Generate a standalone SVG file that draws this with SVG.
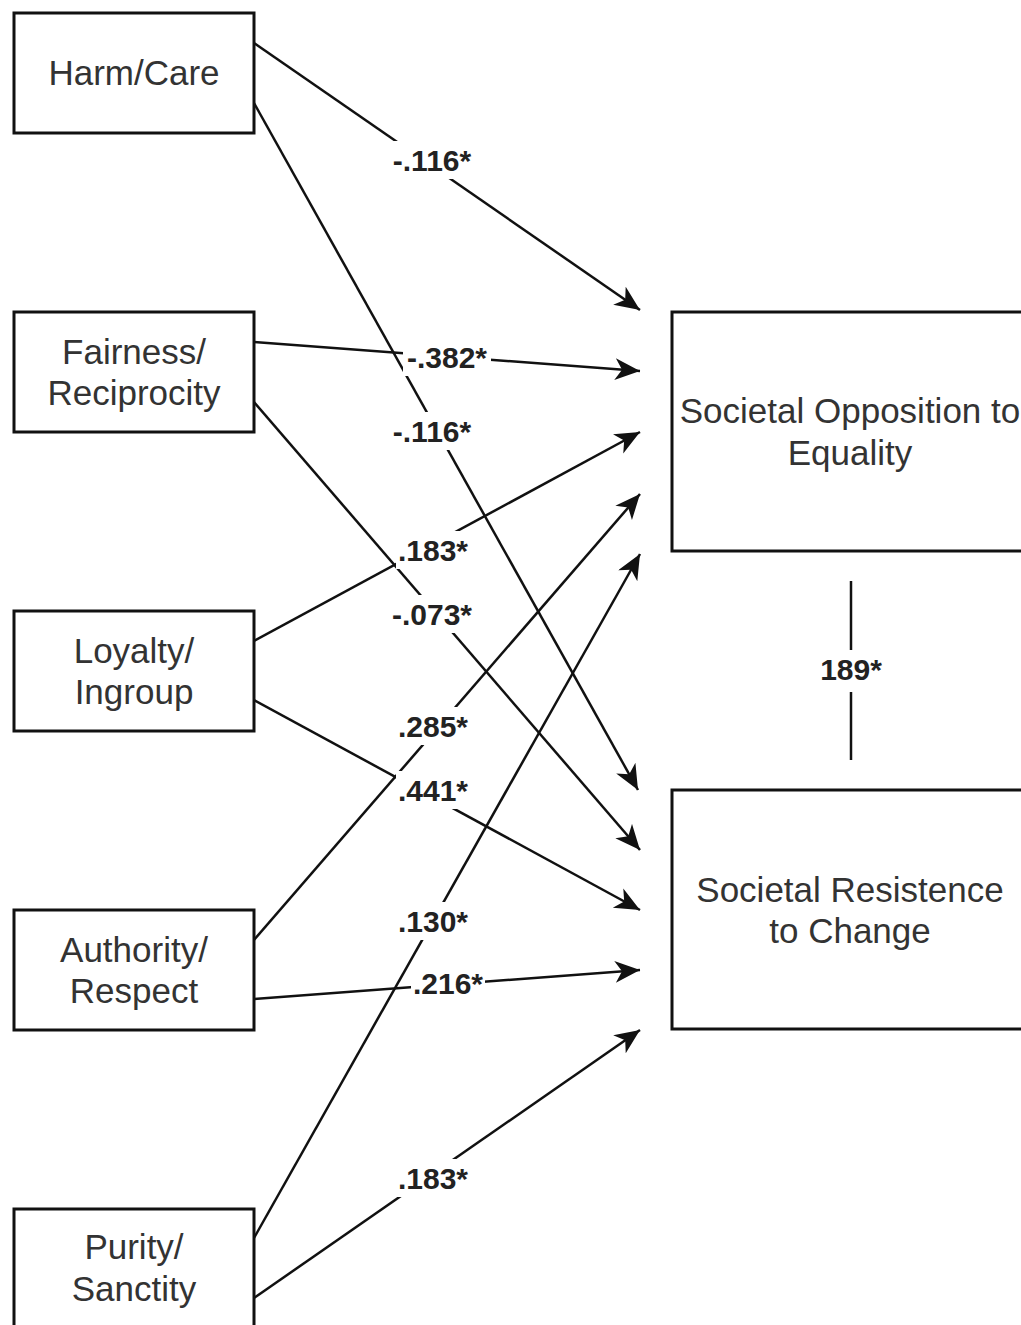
<svg xmlns="http://www.w3.org/2000/svg" width="1021" height="1325" viewBox="0 0 1021 1325">
<style>
.box{fill:#fff;stroke:#111;stroke-width:3}
.nt{font-family:"Liberation Sans",Arial,sans-serif;font-size:35px;fill:#333;text-anchor:middle}
.ln{stroke:#111;stroke-width:2.5;fill:none}
.arr{marker-end:url(#ah)}
.lb{fill:#fff}
.lt{font-family:"Liberation Sans",Arial,sans-serif;font-size:30px;font-weight:bold;fill:#222;text-anchor:middle}
</style>
<defs>
<marker id="ah" markerUnits="userSpaceOnUse" markerWidth="28" markerHeight="24" refX="25" refY="11" orient="auto">
<path d="M0,0 L25,11 L0,22 L7,11 Z" fill="#111"/>
</marker>
</defs>
<rect width="1021" height="1325" fill="#fff"/>
<g id="connectors">
<line class="ln arr" x1="254" y1="43" x2="640" y2="310"/>
<line class="ln arr" x1="254" y1="342" x2="640" y2="371"/>
<line class="ln arr" x1="254" y1="103" x2="638" y2="790"/>
<line class="ln arr" x1="254" y1="641" x2="640" y2="432"/>
<line class="ln arr" x1="254" y1="402" x2="640" y2="850"/>
<line class="ln arr" x1="254" y1="940" x2="640" y2="494"/>
<line class="ln arr" x1="254" y1="700" x2="640" y2="910"/>
<line class="ln arr" x1="254" y1="1238" x2="640" y2="554"/>
<line class="ln arr" x1="254" y1="999" x2="640" y2="970"/>
<line class="ln arr" x1="254" y1="1298" x2="640" y2="1030"/>
<line class="ln" x1="851" y1="581" x2="851" y2="760"/>
<g id="labels">
<rect class="lb" x="389" y="141" width="86" height="38"/>
<text class="lt" x="432" y="171">-.116*</text>
<rect class="lb" x="403" y="338" width="88" height="38"/>
<text class="lt" x="447" y="368">-.382*</text>
<rect class="lb" x="389" y="412" width="86" height="38"/>
<text class="lt" x="432" y="442">-.116*</text>
<rect class="lb" x="396" y="531" width="74" height="38"/>
<text class="lt" x="433" y="561">.183*</text>
<rect class="lb" x="389" y="595" width="86" height="38"/>
<text class="lt" x="432" y="625">-.073*</text>
<rect class="lb" x="396" y="707" width="74" height="38"/>
<text class="lt" x="433" y="737">.285*</text>
<rect class="lb" x="396" y="771" width="74" height="38"/>
<text class="lt" x="433" y="801">.441*</text>
<rect class="lb" x="396" y="902" width="74" height="38"/>
<text class="lt" x="433" y="932">.130*</text>
<rect class="lb" x="411" y="964" width="74" height="38"/>
<text class="lt" x="448" y="994">.216*</text>
<rect class="lb" x="396" y="1159" width="74" height="38"/>
<text class="lt" x="433" y="1189">.183*</text>
<rect class="lb" x="817" y="650" width="68" height="42"/>
<text class="lt" x="851" y="680">189*</text>
</g>
</g>
<g id="harm">
<rect class="box" x="14" y="13" width="240" height="120"/>
<text class="nt" x="134" y="85">Harm/Care</text>
</g>
<g id="fairness">
<rect class="box" x="14" y="312" width="240" height="120"/>
<text class="nt" x="134" y="364">Fairness/</text>
<text class="nt" x="134" y="405">Reciprocity</text>
</g>
<g id="loyalty">
<rect class="box" x="14" y="611" width="240" height="120"/>
<text class="nt" x="134" y="663">Loyalty/</text>
<text class="nt" x="134" y="704">Ingroup</text>
</g>
<g id="authority">
<rect class="box" x="14" y="910" width="240" height="120"/>
<text class="nt" x="134" y="962">Authority/</text>
<text class="nt" x="134" y="1003">Respect</text>
</g>
<g id="purity">
<rect class="box" x="14" y="1209" width="240" height="120"/>
<text class="nt" x="134" y="1259">Purity/</text>
<text class="nt" x="134" y="1301">Sanctity</text>
</g>
<g id="opposition">
<rect class="box" x="672" y="312" width="358" height="239"/>
<text class="nt" x="850" y="423">Societal Opposition to</text>
<text class="nt" x="850" y="465">Equality</text>
</g>
<g id="resistance">
<rect class="box" x="672" y="790" width="358" height="239"/>
<text class="nt" x="850" y="902">Societal Resistence</text>
<text class="nt" x="850" y="943">to Change</text>
</g>
</svg>
